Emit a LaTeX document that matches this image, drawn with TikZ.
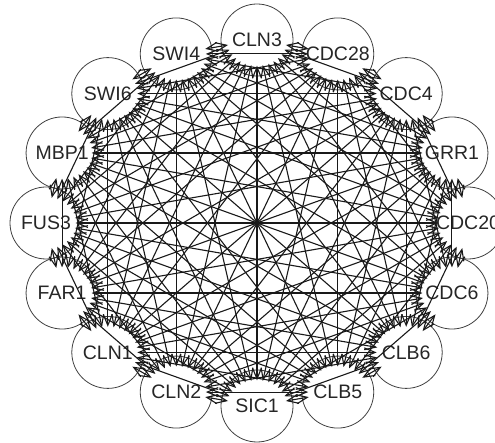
\documentclass[tikz,border=0pt]{standalone}
\usepackage{fontspec}
\setmainfont{Liberation Sans}
\usetikzlibrary{arrows.meta,calc}
\begin{document}
\begin{tikzpicture}[x=1pt,y=1pt,
  vtx/.style={circle, draw=black!75, line width=0.8pt, minimum size=72pt, inner sep=0pt,
    text=black!85, font=\fontsize{19.5}{20}\selectfont},
  edge/.style={draw=black!90, line width=1.1pt,
    {Straight Barb[length=11pt,width=9pt]}-{Straight Barb[length=11pt,width=9pt]}}]
\useasboundingbox (0,0) rectangle (495,-443);
\begin{scope}[shift={(257,-223)}]
\foreach \name [count=\i from 0] in {CLN3,CDC28,CDC4,GRR1,CDC20,CDC6,CLB6,CLB5,SIC1,CLN2,CLN1,FAR1,FUS3,MBP1,SWI6,SWI4}
  \node[vtx] (n\i) at ({90-22.5*\i}:211 and 183) {\name};
\foreach \i in {0,...,14}{
  \pgfmathtruncatemacro\s{\i+1}
  \foreach \j in {\s,...,15}{
    \pgfmathsetmacro\f{0.14/(2*sin(11.25*(\j-\i)))}
    \draw[edge] ($(n\i.center)!\f!(n\j.center)$) -- ($(n\j.center)!\f!(n\i.center)$);
  }
}
\end{scope}
\end{tikzpicture}
\end{document}
